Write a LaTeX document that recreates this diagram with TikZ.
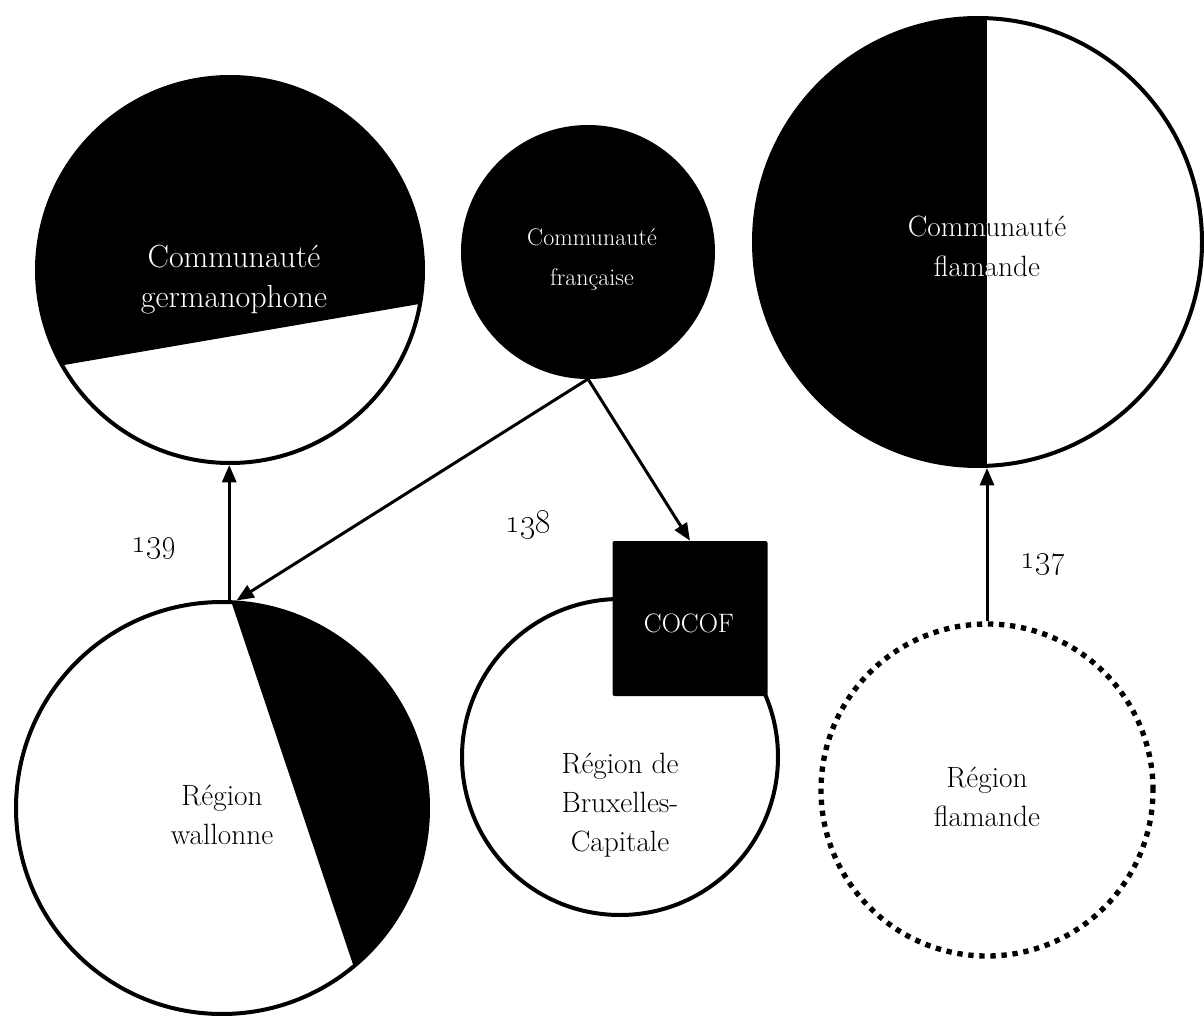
\documentclass[tikz,border=0pt]{standalone}
\usetikzlibrary{arrows.meta}
\begin{document}
\begin{tikzpicture}[x=0.75pt,y=-0.75pt,
  disc/.style={circle,draw,line width=3pt,inner sep=0pt,minimum size=#1*1.5pt},
  arr/.style={line width=2.25pt,-{Triangle[length=13pt,width=10.5pt]}},
  lbl/.style={anchor=base,inner sep=0pt,font=\fontsize{#1}{29.5}\selectfont},
  num/.style={anchor=base,inner sep=0pt,font=\fontsize{23}{28}\selectfont}
]
\fill[white] (0,0) rectangle (1204,1016);
\useasboundingbox (0,0) rectangle (1204,1016);

% Communauté germanophone: black upper part
\begin{scope}
  \clip (230,270) circle[radius=144.75pt];
  \fill (0,376) -- (460,297) -- (460,60) -- (0,60) -- cycle;
\end{scope}
\node[disc=193] (gc) at (230,270) {};

% Communauté française
\node[disc=125,fill=black] (fr) at (588,252) {};

% Communauté flamande: black left half
\begin{scope}
  \clip (978,242) circle[radius=168pt];
  \fill (740,0) rectangle (987,480);
\end{scope}
\node[disc=224] (fl) at (978,242) {};

% Région wallonne: black right wedge
\begin{scope}
  \clip (222,808) circle[radius=154.5pt];
  \fill (224,580) -- (375,1030) -- (460,1030) -- (460,580) -- cycle;
\end{scope}
\node[disc=206] (rw) at (222,808) {};

% Région de Bruxelles-Capitale and COCOF
\node[disc=158,fill=white] (rb) at (620,757) {};
\node[rectangle,fill=black,inner sep=0pt,minimum size=116.25pt,rounded corners=1.5pt] (cocof) at (690,618.5) {};

% Région flamande (dotted)
\node[circle,draw,line width=4pt,dash pattern=on 4pt off 4.3pt,inner sep=0pt,minimum size=249pt] (rf) at (987,790) {};

% connectors
\draw[arr] (rw.88) -- (rw.88 |- gc.south);
\draw[arr] (fr.south) -- (rw.86);
\draw[arr] (fr.south) -- (cocof.north);
\draw[arr] (rf.north) -- (rf.north |- fl.south);

% texts
\node[lbl=24,text=white] (gcT) at (234,268) {\begin{tabular}[t]{@{}c@{}}Communauté\\germanophone\end{tabular}};
\node[lbl=18,text=white] (frT) at (592,246) {\begin{tabular}[t]{@{}c@{}}Communauté\\française\end{tabular}};
\node[lbl=22] (flT) at (987,237) {\begin{tabular}[t]{@{}c@{}}Communauté\\flamande\end{tabular}};
\begin{scope}
  \clip (740,0) rectangle (987,480);
  \node[lbl=22,text=white] (flTw) at (987,237) {\begin{tabular}[t]{@{}c@{}}Communauté\\flamande\end{tabular}};
\end{scope}
\node[lbl=22] (rwT) at (222,805) {\begin{tabular}[t]{@{}c@{}}Région\\wallonne\end{tabular}};
\node[lbl=22] (rbT) at (620,773) {\begin{tabular}[t]{@{}c@{}}Région de\\Bruxelles-\\Capitale\end{tabular}};
\node[lbl=22] (rfT) at (987,787) {\begin{tabular}[t]{@{}c@{}}Région\\flamande\end{tabular}};
\node[lbl=20,text=white] (cocofT) at (689,632) {COCOF};

\node[num] (n139) at (154,552) {\oldstylenums{139}};
\node[num] (n138) at (528,532) {\oldstylenums{138}};
\node[num] (n137) at (1043,568) {\oldstylenums{137}};
\end{tikzpicture}
\end{document}
